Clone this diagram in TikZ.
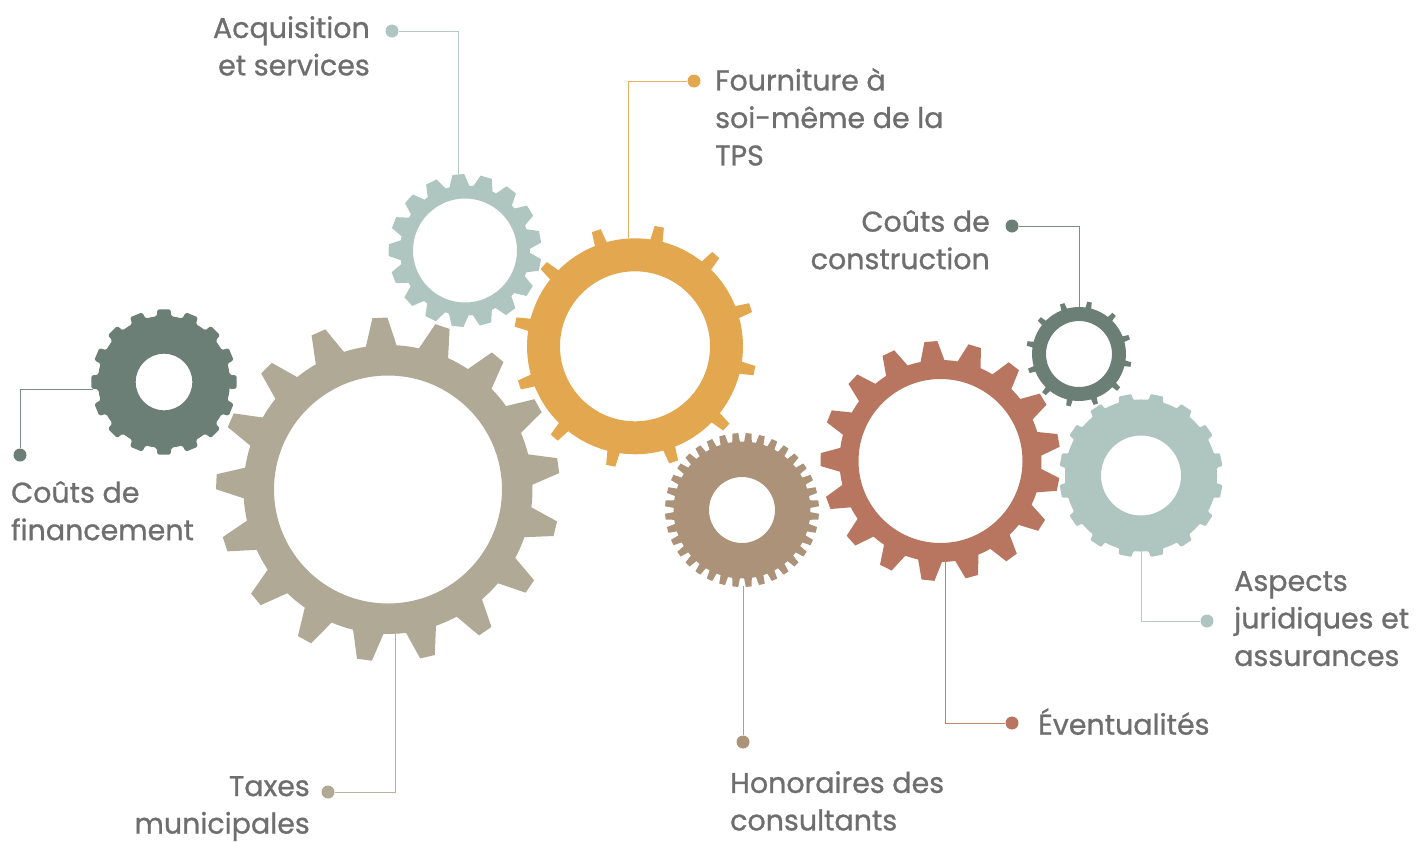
\documentclass[tikz,border=0pt]{standalone}
\usepackage{fontspec}
\setmainfont[FakeBold=0.9]{Poppins}
\definecolor{tancol}{HTML}{AFA996}
\definecolor{orangecol}{HTML}{E3A84F}
\definecolor{mintcol}{HTML}{AFC5BF}
\definecolor{pinecol}{HTML}{6B7F76}
\definecolor{rustcol}{HTML}{B87560}
\definecolor{browncol}{HTML}{AB9278}
\definecolor{textcol}{HTML}{6E6E6E}
\tikzset{
	labeltext/.style={inner sep=0pt,text=textcol,font=\fontsize{28.5}{37.5}\selectfont},
	dotnode/.style={circle,inner sep=0pt,minimum size=13pt,fill=#1},
	leader/.style={line width=1pt,#1!90!white},
}
% centre, hole, root, tip, teeth, phase, root half angle, tip half angle, fill options
\newcommand{\gear}[9]{
	\begin{scope}[shift={(#1)}]
	\pgfmathsetmacro{\stepang}{360/#5}
	\fill[even odd rule,#9] ({#6-#7}:#3pt)
		\foreach \i in {1,...,#5}{
			\pgfextra{\pgfmathsetmacro{\ang}{#6+(\i-1)*\stepang}}
			-- ({\ang-#8}:#4pt) -- ({\ang+#8}:#4pt) -- ({\ang+#7}:#3pt)
			arc[start angle={\ang+#7},end angle={\ang+\stepang-#7},radius=#3pt]
		} -- cycle (0,0) circle (#2pt);
	\end{scope}
}
\begin{document}
\begin{tikzpicture}[x=1pt,y=-1pt]
	\useasboundingbox (0,0) rectangle (1419,841);
	% gears
	\gear{388,489.5}{114}{144.5}{172}{17}{92.7}{6.1}{2.5}{tancol}
	\gear{465,250.5}{52}{65}{76.5}{17}{95}{8.8}{4.4}{mintcol}
	\gear{635,346.3}{75}{108}{122}{12}{78.5}{3.3}{2.2}{orangecol}
	\gear{164,382}{28.3}{66}{73}{16}{0}{6.4}{5.1}{pinecol,rounded corners=1.5pt}
	\gear{742,510}{33}{68.5}{77}{36}{85}{3.2}{2.2}{browncol}
	\gear{940.5,461}{82}{101}{120}{17}{94.6}{6.8}{3.1}{rustcol}
	\gear{1079,354}{33}{47}{53}{12}{78.5}{3.5}{2.5}{pinecol}
	\gear{1141,475.5}{40}{76}{82}{16}{78.75}{5.5}{4.5}{mintcol,rounded corners=1pt}
	% dots
	\node[dotnode=mintcol] (dotacq) at (392,31) {};
	\node[dotnode=orangecol] (dotfour) at (694,81) {};
	\node[dotnode=pinecol] (dotcons) at (1012,226) {};
	\node[dotnode=pinecol] (dotfin) at (20,455) {};
	\node[dotnode=tancol] (dottax) at (328,792) {};
	\node[dotnode=browncol] (dothon) at (743,742) {};
	\node[dotnode=rustcol] (dotevt) at (1012,723) {};
	\node[dotnode=mintcol] (dotjur) at (1207,621) {};
	% rim ends of the leaders
	\coordinate (rimacq) at (458,178);
	\coordinate (rimfour) at (628,238);
	\coordinate (rimcons) at (1079,307);
	\coordinate (rimfin) at (93,389);
	\coordinate (rimtax) at (395,633);
	\coordinate (rimhon) at (743,586);
	\coordinate (rimevt) at (945,561);
	\coordinate (rimjur) at (1141,552);
	\draw[leader=mintcol] (dotacq) -| (rimacq);
	\draw[leader=orangecol] (dotfour) -| (rimfour);
	\draw[leader=pinecol] (dotcons) -| (rimcons);
	\draw[leader=pinecol] (dotfin) |- (rimfin);
	\draw[leader=tancol] (dottax) -| (rimtax);
	\draw[leader=browncol] (dothon) -- (rimhon);
	\draw[leader=rustcol] (dotevt) -| (rimevt);
	\draw[leader=mintcol] (dotjur) -| (rimjur);
	% labels
	\node[labeltext,align=right,anchor=north east] (lblacq) at (370,16) {Acquisition\\et services};
	\node[labeltext,align=left,anchor=north west] (lblfour) at (715,68) {Fourniture à\\soi-même de la\\TPS};
	\node[labeltext,align=right,anchor=north east] (lblcons) at (990,210) {Coûts de\\construction};
	\node[labeltext,align=left,anchor=north west] (lblfin) at (11,481) {Coûts de\\financement};
	\node[labeltext,align=right,anchor=north east] (lbltax) at (310,776) {Taxes\\municipales};
	\node[labeltext,align=left,anchor=north west] (lblhon) at (730,771) {Honoraires des\\consultants};
	\node[labeltext,align=left,anchor=north west] (lblevt) at (1038,708) {Éventualités};
	\node[labeltext,align=left,anchor=north west] (lbljur) at (1234,571) {Aspects\\juridiques et\\assurances};
\end{tikzpicture}
\end{document}
